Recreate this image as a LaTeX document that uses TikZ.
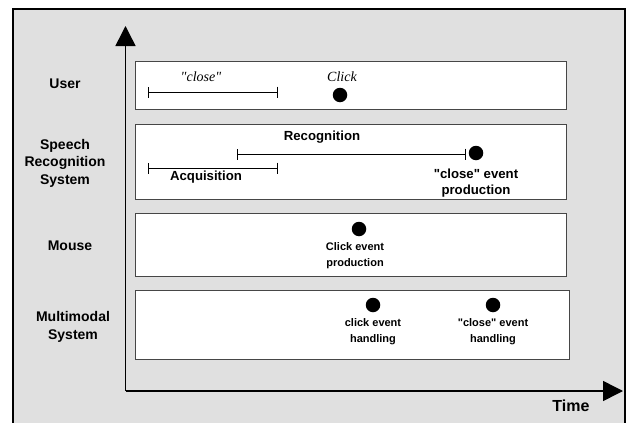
\documentclass[tikz,border=0pt]{standalone}
\usepackage{fontspec}
\setmainfont{Liberation Sans}
\newfontfamily\timesfont{Liberation Serif}
\usepackage{tikz}
\usetikzlibrary{arrows.meta,positioning}
\usepackage{xcolor}
\definecolor{panelgray}{RGB}{224,224,224}
\definecolor{laneline}{RGB}{70,70,70}
\newcommand{\qq}{\textquotedbl}

\begin{document}
\begin{tikzpicture}[x=1pt,y=-1pt,>={Triangle[length=20pt,width=20pt]}]
\tikzstyle{lane}=[draw=laneline,line width=.8pt,fill=white,minimum height=10pt,inner sep=0pt]
\tikzstyle{who}=[font=\bfseries\fontsize{14}{17.5}\selectfont,align=center]
\tikzstyle{lbl}=[font=\bfseries\fontsize{13.2}{16}\selectfont,align=center,inner sep=0pt]
\tikzstyle{small}=[font=\bfseries\fontsize{11}{16}\selectfont,align=center,inner sep=0pt]
\tikzstyle{said}=[font=\timesfont\itshape\fontsize{14}{16}\selectfont,inner sep=0pt]
\tikzstyle{ev}=[circle,fill=black,minimum size=14.5pt,inner sep=0pt]
\tikzstyle{span}=[{Bar[width=11pt]}-{Bar[width=11pt]},line width=.8pt]
\useasboundingbox (0,0) rectangle (632,423);
\fill[panelgray] (13,9) rectangle (625,423);
\draw[line width=2pt] (13,423) -- (13,9) -- (625,9) -- (625,423);
% lanes
\node[lane,minimum width=431pt,minimum height=48pt] (user) at (350.5,85) {};
\node[lane,minimum width=431pt,minimum height=75pt] (srs) at (350.5,161.5) {};
\node[lane,minimum width=431pt,minimum height=63pt] (mouse) at (350.5,244.5) {};
\node[lane,minimum width=434pt,minimum height=69pt] (mms) at (352,324.5) {};
% axes
\coordinate (o) at (125.5,391);
\coordinate (ytop) at (125.5,26);
\coordinate (xend) at (623,391);
\draw[->,line width=1.5pt] (o) -- (ytop);
\draw[->,line width=1.5pt] (o) -- (xend);
\node[font=\bfseries\fontsize{16}{18}\selectfont] (time) at (571,406) {Time};
% actors
\node[who] (uname) at (65,84) {User};
\node[who] (sname) at (65,163) {Speech\\Recognition\\System};
\node[who] (mname) at (70,246) {Mouse};
\node[who] (mmname) at (73,327) {Multimodal\\System};
% user lane
\coordinate (c0) at (148,92); \coordinate (c1) at (278,92);
\draw[span] (c0) -- (c1);
\node[said] (close) at (201,77) {\qq close\qq};
\node[said] (click) at (342,77) {Click};
\node[ev] (uclick) at (340,95) {};
% speech lane
\coordinate (r0) at (237,154); \coordinate (r1) at (466,154);
\coordinate (a0) at (148,168); \coordinate (a1) at (278,168);
\draw[span] (r0) -- (r1);
\draw[span] (a0) -- (a1);
\node[lbl] (recog) at (322,137) {Recognition};
\node[lbl] (acq) at (206,177) {Acquisition};
\node[ev] (sclose) at (476,153) {};
\node[lbl,below=8pt of sclose] (sclosetxt) {\qq close\qq{} event\\production};
% mouse lane
\node[ev] (mclick) at (359,229) {};
\node[small,below=6pt of mclick,xshift=-4pt] (mclicktxt) {Click event\\production};
% multimodal lane
\node[ev] (hclick) at (373,305) {};
\node[small,below=6pt of hclick] (hclicktxt) {click event\\handling};
\node[ev] (hclose) at (493,305) {};
\node[small,below=6pt of hclose] (hclosetxt) {\qq close\qq{} event\\handling};
\end{tikzpicture}
\end{document}
